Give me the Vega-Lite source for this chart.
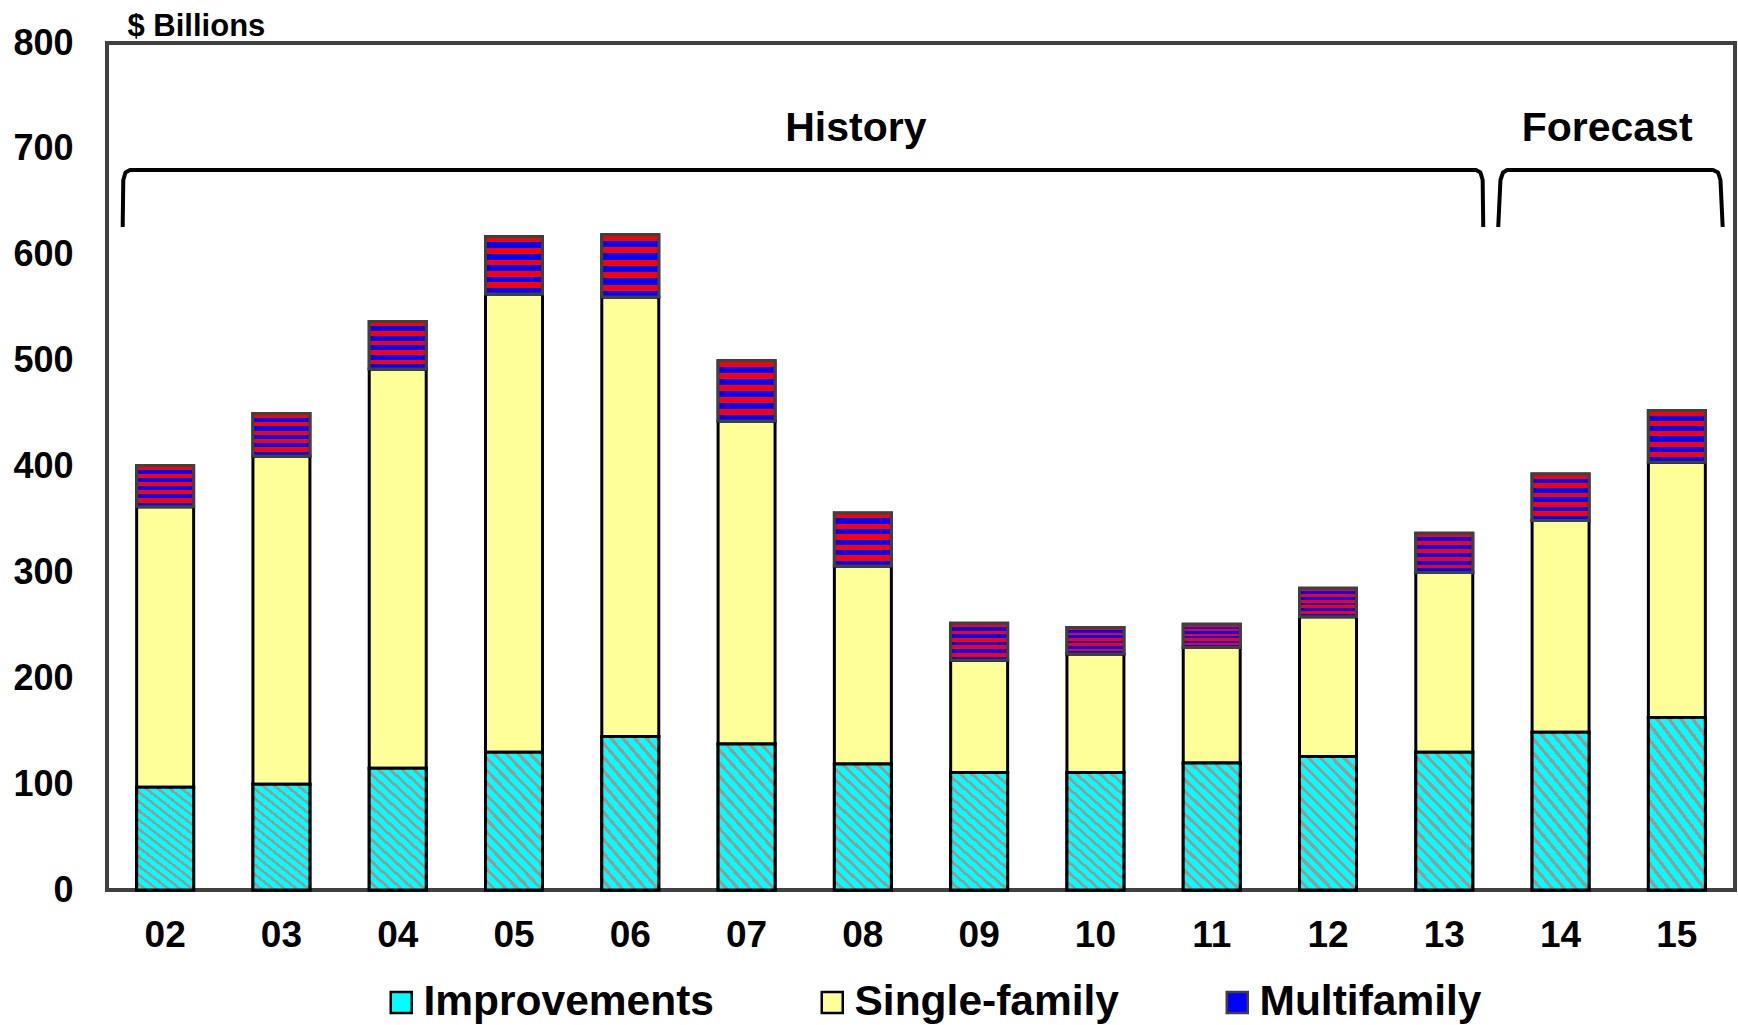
{
  "$schema": "https://vega.github.io/schema/vega-lite/v6.json",
  "width": 1628,
  "height": 847,
  "autosize": {"type": "none"},
  "padding": {"left": 107, "top": 43, "right": 3, "bottom": 135},
  "background": "white",
  "config": {
    "font": "Liberation Sans",
    "view": {"stroke": "#404040", "strokeWidth": 4},
    "axis": {"labelFont": "Liberation Sans", "labelFontWeight": "bold", "labelColor": "black", "titleColor": "black"}
  },
  "datasets": {
    "bars": [
      {"year": "02", "series": "Improvements", "k": 1, "value": 97},
      {"year": "02", "series": "Single-family", "k": 2, "value": 265},
      {"year": "02", "series": "Multifamily", "k": 3, "value": 39},
      {"year": "03", "series": "Improvements", "k": 1, "value": 100},
      {"year": "03", "series": "Single-family", "k": 2, "value": 310},
      {"year": "03", "series": "Multifamily", "k": 3, "value": 40},
      {"year": "04", "series": "Improvements", "k": 1, "value": 115},
      {"year": "04", "series": "Single-family", "k": 2, "value": 377},
      {"year": "04", "series": "Multifamily", "k": 3, "value": 45},
      {"year": "05", "series": "Improvements", "k": 1, "value": 130},
      {"year": "05", "series": "Single-family", "k": 2, "value": 433},
      {"year": "05", "series": "Multifamily", "k": 3, "value": 54},
      {"year": "06", "series": "Improvements", "k": 1, "value": 145},
      {"year": "06", "series": "Single-family", "k": 2, "value": 415},
      {"year": "06", "series": "Multifamily", "k": 3, "value": 59},
      {"year": "07", "series": "Improvements", "k": 1, "value": 138},
      {"year": "07", "series": "Single-family", "k": 2, "value": 305},
      {"year": "07", "series": "Multifamily", "k": 3, "value": 57},
      {"year": "08", "series": "Improvements", "k": 1, "value": 119},
      {"year": "08", "series": "Single-family", "k": 2, "value": 187},
      {"year": "08", "series": "Multifamily", "k": 3, "value": 50},
      {"year": "09", "series": "Improvements", "k": 1, "value": 111},
      {"year": "09", "series": "Single-family", "k": 2, "value": 106},
      {"year": "09", "series": "Multifamily", "k": 3, "value": 35},
      {"year": "10", "series": "Improvements", "k": 1, "value": 111},
      {"year": "10", "series": "Single-family", "k": 2, "value": 112},
      {"year": "10", "series": "Multifamily", "k": 3, "value": 25},
      {"year": "11", "series": "Improvements", "k": 1, "value": 120},
      {"year": "11", "series": "Single-family", "k": 2, "value": 109},
      {"year": "11", "series": "Multifamily", "k": 3, "value": 22},
      {"year": "12", "series": "Improvements", "k": 1, "value": 126},
      {"year": "12", "series": "Single-family", "k": 2, "value": 132},
      {"year": "12", "series": "Multifamily", "k": 3, "value": 27},
      {"year": "13", "series": "Improvements", "k": 1, "value": 130},
      {"year": "13", "series": "Single-family", "k": 2, "value": 170},
      {"year": "13", "series": "Multifamily", "k": 3, "value": 37},
      {"year": "14", "series": "Improvements", "k": 1, "value": 149},
      {"year": "14", "series": "Single-family", "k": 2, "value": 200},
      {"year": "14", "series": "Multifamily", "k": 3, "value": 44},
      {"year": "15", "series": "Improvements", "k": 1, "value": 163},
      {"year": "15", "series": "Single-family", "k": 2, "value": 241},
      {"year": "15", "series": "Multifamily", "k": 3, "value": 49}
    ],
    "brackets": [
      {"b": "History", "i": 1, "x": 0.135, "y": 626.2},
      {"b": "History", "i": 2, "x": 0.140, "y": 670.6},
      {"b": "History", "i": 3, "x": 0.159, "y": 677.7},
      {"b": "History", "i": 4, "x": 0.198, "y": 680.0},
      {"b": "History", "i": 5, "x": 11.773, "y": 680.0},
      {"b": "History", "i": 6, "x": 11.811, "y": 677.7},
      {"b": "History", "i": 7, "x": 11.830, "y": 670.6},
      {"b": "History", "i": 8, "x": 11.835, "y": 626.2},
      {"b": "Forecast", "i": 1, "x": 11.964, "y": 626.2},
      {"b": "Forecast", "i": 2, "x": 11.983, "y": 670.6},
      {"b": "Forecast", "i": 3, "x": 12.005, "y": 677.7},
      {"b": "Forecast", "i": 4, "x": 12.040, "y": 680.0},
      {"b": "Forecast", "i": 5, "x": 13.811, "y": 680.0},
      {"b": "Forecast", "i": 6, "x": 13.854, "y": 677.7},
      {"b": "Forecast", "i": 7, "x": 13.875, "y": 670.6},
      {"b": "Forecast", "i": 8, "x": 13.894, "y": 626.2}
    ],
    "labels": [
      {"t": "History", "x": 6.44, "y": 707.4},
      {"t": "Forecast", "x": 12.90, "y": 707.4}
    ]
  },
  "resolve": {"scale": {"x": "independent"}},
  "layer": [
    {
      "data": {"name": "bars"},
      "mark": {"type": "bar", "stroke": "black", "strokeWidth": 3},
      "encoding": {
        "x": {"field": "year", "type": "ordinal", "scale": {"paddingInner": 0.51, "paddingOuter": 0.255},
              "axis": {"title": null, "labelAngle": 0, "labelFontSize": 37, "labelPadding": 27, "ticks": false, "domain": false}},
        "y": {"field": "value", "type": "quantitative", "stack": "zero", "scale": {"domain": [0, 800], "nice": false},
              "axis": {"values": [0, 100, 200, 300, 400, 500, 600, 700, 800], "grid": false, "ticks": false, "domain": false,
                       "labelFontSize": 36, "labelPadding": 34,
                       "title": "$ Billions", "titleAngle": 0, "titleAlign": "left", "titleBaseline": "alphabetic",
                       "titleX": 20, "titleY": -8, "titleFontSize": 31, "titleFontWeight": "bold", "titleFont": "Liberation Sans"}},
        "order": {"field": "k", "type": "quantitative"},
        "color": {"field": "series", "type": "nominal",
                  "scale": {"domain": ["Improvements", "Single-family", "Multifamily"], "range": ["#00ffff", "#ffff99", "#0000ff"]},
                  "legend": {"title": null, "orient": "none", "direction": "horizontal", "legendX": 273, "legendY": 938,
                             "padding": 0, "symbolType": "square", "symbolSize": 441, "symbolStrokeColor": "black", "symbolStrokeWidth": 2.5,
                             "symbolOpacity": 1, "labelFontSize": 42.5, "labelFontWeight": "bold", "labelFont": "Liberation Sans", "labelColor": "black",
                             "labelOffset": 1, "columnPadding": 96, "labelLimit": 600,
                             "encode": {"symbols": {"update": {
                               "stroke": [{"test": "datum.value === 'Multifamily'", "value": "#404040"}, {"value": "black"}],
                               "strokeWidth": {"value": 2.5}}}}}}
      }
    },
    {
      "data": {"name": "bars"},
      "transform": [
        {"stack": "value", "groupby": ["year"], "sort": [{"field": "k", "order": "ascending"}], "as": ["v0", "v1"]},
        {"filter": "datum.series === 'Improvements'"}
      ],
      "mark": {"type": "bar", "stroke": "black", "strokeWidth": 3,
               "fill": {"gradient": "linear", "x1": 0, "y1": 1, "x2": 0.521, "y2": -0.207, "stops": [
                 {"offset": 0, "color": "#00ffff"}, {"offset": 0.04, "color": "#00ffff"}, {"offset": 0.04, "color": "#999999"}, {"offset": 0.0625, "color": "#999999"},
                 {"offset": 0.0625, "color": "#00ffff"}, {"offset": 0.1025, "color": "#00ffff"}, {"offset": 0.1025, "color": "#999999"}, {"offset": 0.125, "color": "#999999"},
                 {"offset": 0.125, "color": "#00ffff"}, {"offset": 0.165, "color": "#00ffff"}, {"offset": 0.165, "color": "#999999"}, {"offset": 0.1875, "color": "#999999"},
                 {"offset": 0.1875, "color": "#00ffff"}, {"offset": 0.2275, "color": "#00ffff"}, {"offset": 0.2275, "color": "#999999"}, {"offset": 0.25, "color": "#999999"},
                 {"offset": 0.25, "color": "#00ffff"}, {"offset": 0.29, "color": "#00ffff"}, {"offset": 0.29, "color": "#999999"}, {"offset": 0.3125, "color": "#999999"},
                 {"offset": 0.3125, "color": "#00ffff"}, {"offset": 0.3525, "color": "#00ffff"}, {"offset": 0.3525, "color": "#999999"}, {"offset": 0.375, "color": "#999999"},
                 {"offset": 0.375, "color": "#00ffff"}, {"offset": 0.415, "color": "#00ffff"}, {"offset": 0.415, "color": "#999999"}, {"offset": 0.4375, "color": "#999999"},
                 {"offset": 0.4375, "color": "#00ffff"}, {"offset": 0.4775, "color": "#00ffff"}, {"offset": 0.4775, "color": "#999999"}, {"offset": 0.5, "color": "#999999"},
                 {"offset": 0.5, "color": "#00ffff"}, {"offset": 0.54, "color": "#00ffff"}, {"offset": 0.54, "color": "#999999"}, {"offset": 0.5625, "color": "#999999"},
                 {"offset": 0.5625, "color": "#00ffff"}, {"offset": 0.6025, "color": "#00ffff"}, {"offset": 0.6025, "color": "#999999"}, {"offset": 0.625, "color": "#999999"},
                 {"offset": 0.625, "color": "#00ffff"}, {"offset": 0.665, "color": "#00ffff"}, {"offset": 0.665, "color": "#999999"}, {"offset": 0.6875, "color": "#999999"},
                 {"offset": 0.6875, "color": "#00ffff"}, {"offset": 0.7275, "color": "#00ffff"}, {"offset": 0.7275, "color": "#999999"}, {"offset": 0.75, "color": "#999999"},
                 {"offset": 0.75, "color": "#00ffff"}, {"offset": 0.79, "color": "#00ffff"}, {"offset": 0.79, "color": "#999999"}, {"offset": 0.8125, "color": "#999999"},
                 {"offset": 0.8125, "color": "#00ffff"}, {"offset": 0.8525, "color": "#00ffff"}, {"offset": 0.8525, "color": "#999999"}, {"offset": 0.875, "color": "#999999"},
                 {"offset": 0.875, "color": "#00ffff"}, {"offset": 0.915, "color": "#00ffff"}, {"offset": 0.915, "color": "#999999"}, {"offset": 0.9375, "color": "#999999"},
                 {"offset": 0.9375, "color": "#00ffff"}, {"offset": 0.9775, "color": "#00ffff"}, {"offset": 0.9775, "color": "#999999"}, {"offset": 1, "color": "#999999"}
               ]}},
      "encoding": {
        "x": {"field": "year", "type": "ordinal", "scale": {"paddingInner": 0.51, "paddingOuter": 0.255}, "axis": null},
        "y": {"field": "v1", "type": "quantitative", "scale": {"domain": [0, 800], "nice": false}},
        "y2": {"field": "v0"}
      }
    },
    {
      "data": {"name": "bars"},
      "transform": [
        {"stack": "value", "groupby": ["year"], "sort": [{"field": "k", "order": "ascending"}], "as": ["v0", "v1"]},
        {"filter": "datum.series === 'Multifamily'"}
      ],
      "mark": {"type": "bar", "stroke": "#404040", "strokeWidth": 3,
               "fill": {"gradient": "linear", "x1": 0, "y1": 0, "x2": 0, "y2": 1, "stops": [
                 {"offset": 0, "color": "#ff0000"}, {"offset": 0.1, "color": "#ff0000"}, {"offset": 0.1, "color": "#0000ff"}, {"offset": 0.2, "color": "#0000ff"},
                 {"offset": 0.2, "color": "#ff0000"}, {"offset": 0.3, "color": "#ff0000"}, {"offset": 0.3, "color": "#0000ff"}, {"offset": 0.4, "color": "#0000ff"},
                 {"offset": 0.4, "color": "#ff0000"}, {"offset": 0.5, "color": "#ff0000"}, {"offset": 0.5, "color": "#0000ff"}, {"offset": 0.6, "color": "#0000ff"},
                 {"offset": 0.6, "color": "#ff0000"}, {"offset": 0.7, "color": "#ff0000"}, {"offset": 0.7, "color": "#0000ff"}, {"offset": 0.8, "color": "#0000ff"},
                 {"offset": 0.8, "color": "#ff0000"}, {"offset": 0.9, "color": "#ff0000"}, {"offset": 0.9, "color": "#0000ff"}, {"offset": 1, "color": "#0000ff"}
               ]}},
      "encoding": {
        "x": {"field": "year", "type": "ordinal", "scale": {"paddingInner": 0.51, "paddingOuter": 0.255}, "axis": null},
        "y": {"field": "v1", "type": "quantitative", "scale": {"domain": [0, 800], "nice": false}},
        "y2": {"field": "v0"}
      }
    },
    {
      "data": {"name": "brackets"},
      "mark": {"type": "line", "color": "black", "strokeWidth": 4, "strokeJoin": "round", "strokeCap": "butt"},
      "encoding": {
        "x": {"field": "x", "type": "quantitative", "scale": {"domain": [0, 14], "nice": false, "zero": false}, "axis": null},
        "y": {"field": "y", "type": "quantitative", "scale": {"domain": [0, 800], "nice": false}},
        "detail": {"field": "b"},
        "order": {"field": "i", "type": "quantitative"}
      }
    },
    {
      "data": {"name": "labels"},
      "mark": {"type": "text", "font": "Liberation Sans", "fontSize": 41, "fontWeight": "bold", "color": "black", "align": "center", "baseline": "alphabetic"},
      "encoding": {
        "x": {"field": "x", "type": "quantitative", "scale": {"domain": [0, 14], "nice": false, "zero": false}, "axis": null},
        "y": {"field": "y", "type": "quantitative", "scale": {"domain": [0, 800], "nice": false}},
        "text": {"field": "t"}
      }
    }
  ]
}
